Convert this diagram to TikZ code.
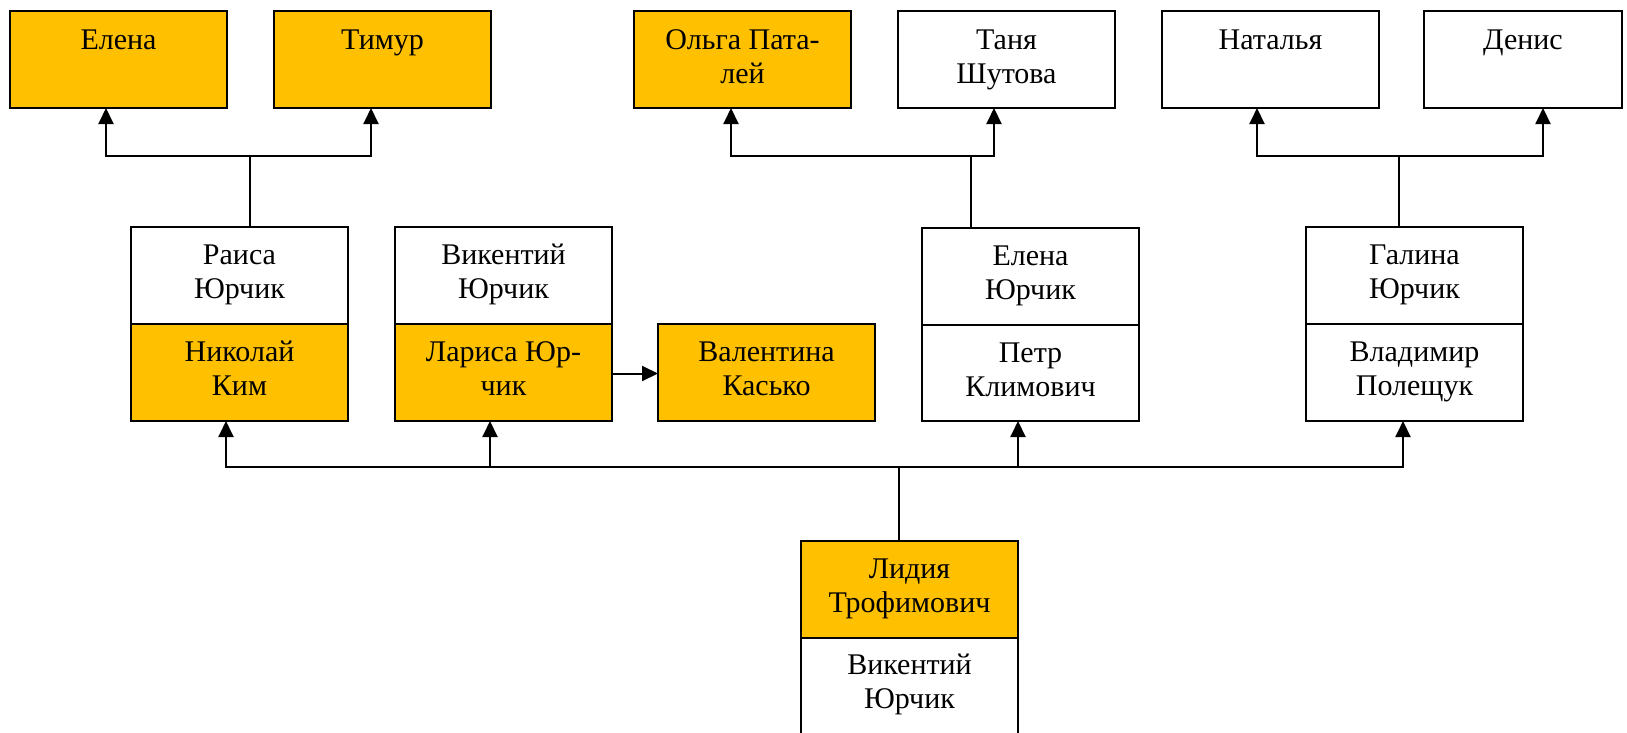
\documentclass[tikz,border=0pt]{standalone}
\usepackage{fontspec}
\setmainfont{Liberation Serif}
\usetikzlibrary{arrows.meta}
\definecolor{gold}{HTML}{FFC000}
\begin{document}
\begin{tikzpicture}[x=1pt,y=-1pt,
  box/.style={draw=black, line width=2.3pt, rectangle, anchor=north west,
    inner sep=0pt, outer sep=0pt, minimum width=217pt, minimum height=97pt},
  gbox/.style={box, fill=gold},
  wbox/.style={box, fill=white},
  txt/.style={anchor=north, inner sep=0pt, outer sep=0pt, align=center,
    font=\fontsize{30}{34.5}\selectfont},
  link/.style={line width=2pt, -{Triangle[length=16pt,width=15pt]}},
  plain/.style={line width=1.4pt},
]
\useasboundingbox (0,0) rectangle (1627,732);

% top row
\node[gbox] (elena) at (10,11) {};
\node[gbox] (timur) at (274,11) {};
\node[gbox] (olga) at (634,11) {};
\node[wbox] (tanya) at (898,11) {};
\node[wbox] (natalya) at (1162,11) {};
\node[wbox, minimum width=198pt] (denis) at (1424,11) {};

% middle row
\node[wbox] (raisa) at (131,227) {};
\node[gbox] (nikolay) at (131,324) {};
\node[wbox] (vikentiy) at (395,227) {};
\node[gbox] (larisa) at (395,324) {};
\node[gbox] (valentina) at (658,324) {};
\node[wbox] (elenayu) at (922,228) {};
\node[wbox, minimum height=96pt] (petr) at (922,325) {};
\node[wbox] (galina) at (1306,227) {};
\node[wbox] (vladimir) at (1306,324) {};

% bottom
\node[gbox] (lidiya) at (801,541) {};
\node[wbox] (vikentiyb) at (801,638) {};

% texts
\node[txt] (telena) at ([yshift=-14pt]elena.north) {\strut Елена};
\node[txt] (ttimur) at ([yshift=-14pt]timur.north) {\strut Тимур};
\node[txt] (tolga) at ([yshift=-14pt]olga.north) {\strut Ольга Пата-\\\strut лей};
\node[txt] (ttanya) at ([yshift=-14pt]tanya.north) {\strut Таня\\\strut Шутова};
\node[txt] (tnatalya) at ([yshift=-14pt]natalya.north) {\strut Наталья};
\node[txt] (tdenis) at ([yshift=-14pt]denis.north) {\strut Денис};

\node[txt] (traisa) at ([yshift=-13pt]raisa.north) {\strut Раиса\\\strut Юрчик};
\node[txt] (tnikolay) at ([yshift=-13pt]nikolay.north) {\strut Николай\\\strut Ким};
\node[txt] (tvikentiy) at ([yshift=-13pt]vikentiy.north) {\strut Викентий\\\strut Юрчик};
\node[txt] (tlarisa) at ([yshift=-13pt]larisa.north) {\strut Лариса Юр-\\\strut чик};
\node[txt] (tvalentina) at ([yshift=-13pt]valentina.north) {\strut Валентина\\\strut Касько};
\node[txt] (telenayu) at ([yshift=-13pt]elenayu.north) {\strut Елена\\\strut Юрчик};
\node[txt] (tpetr) at ([yshift=-13pt]petr.north) {\strut Петр\\\strut Климович};
\node[txt] (tgalina) at ([yshift=-13pt]galina.north) {\strut Галина\\\strut Юрчик};
\node[txt] (tvladimir) at ([yshift=-13pt]vladimir.north) {\strut Владимир\\\strut Полещук};

\node[txt] (tlidiya) at ([yshift=-13pt]lidiya.north) {\strut Лидия\\\strut Трофимович};
\node[txt] (tvikentiyb) at ([yshift=-12pt]vikentiyb.north) {\strut Викентий\\\strut Юрчик};

% connectors
\coordinate (jr) at (250,156);
\draw[plain] (raisa.north -| jr) -- (jr);
\draw[link] (jr) -| ([xshift=-12.5pt]elena.south);
\draw[link] (jr) -| ([xshift=-11.5pt]timur.south);

\coordinate (je) at (971,156);
\draw[plain] (elenayu.north -| je) -- (je);
\draw[link] (je) -| ([xshift=-11.5pt]olga.south);
\draw[link] (je) -| ([xshift=-12.5pt]tanya.south);

\coordinate (jg) at (1399,156);
\draw[plain] (galina.north -| jg) -- (jg);
\draw[link] (jg) -| ([xshift=-13.5pt]natalya.south);
\draw[link] (jg) -| ([xshift=20pt]denis.south);

\coordinate (jl) at (899,466.5);
\draw[plain] (lidiya.north -| jl) -- (jl);
\draw[link] (jl) -| ([xshift=-13.5pt]nikolay.south);
\draw[link] (jl) -| ([xshift=-13.5pt]larisa.south);
\draw[link] (jl) -| ([xshift=-12.5pt]petr.south);
\draw[link] (jl) -| ([xshift=-11.5pt]vladimir.south);

\draw[link] ([yshift=-1pt]larisa.east) -- ([yshift=-1pt]valentina.west);
\end{tikzpicture}
\end{document}
